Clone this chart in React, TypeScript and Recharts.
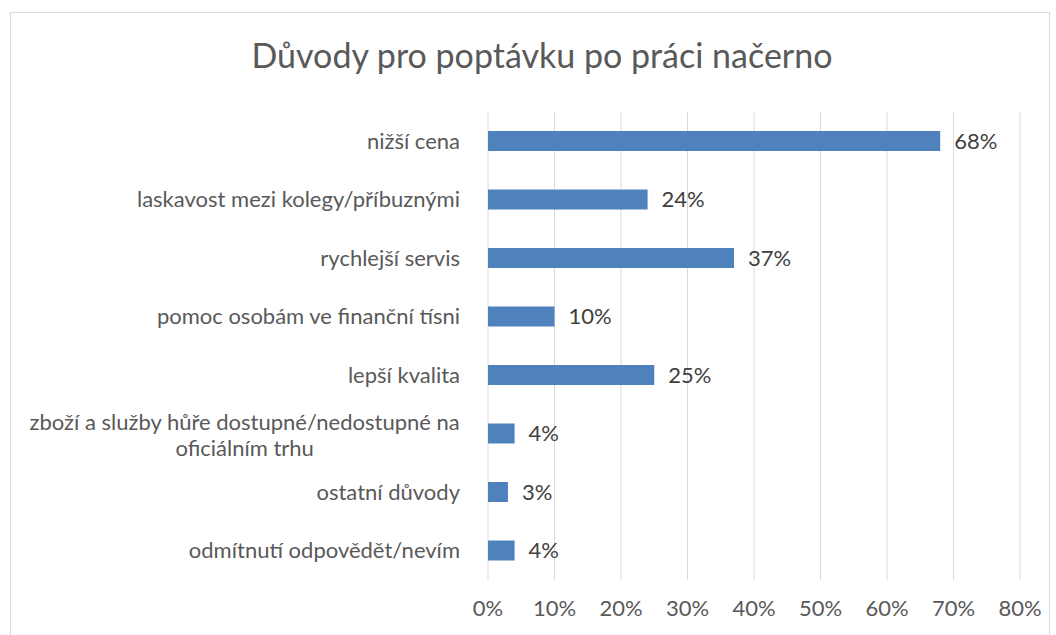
import React from 'react';
import { BarChart, Bar, XAxis, YAxis, CartesianGrid, LabelList } from 'recharts';

const categories = [
  'nižší cena',
  'laskavost mezi kolegy/příbuznými',
  'rychlejší servis',
  'pomoc osobám ve finanční tísni',
  'lepší kvalita',
  'zboží a služby hůře dostupné/nedostupné na\noficiálním trhu',
  'ostatní důvody',
  'odmítnutí odpovědět/nevím',
];
const shares = [68, 24, 37, 10, 25, 4, 3, 4];
const xTicks = [0, 10, 20, 30, 40, 50, 60, 70, 80];

const data = categories.map((name, i) => ({ name, value: shares[i] }));

const FONT = 'Lato, sans-serif';
const TEXT = '#595959';
const LABEL_SIZE = 22;

let ctx: CanvasRenderingContext2D | null = null;
const measure = (s: string, size: number) => {
  if (!ctx) ctx = document.createElement('canvas').getContext('2d');
  if (!ctx) return s.length * size * 0.5;
  ctx.font = `${size}px Lato`;
  return ctx.measureText(s).width;
};

const CategoryTick = (props: any) => {
  const { x, y, payload } = props;
  const lines: string[] = String(payload.value).split('\n');
  const size = LABEL_SIZE;
  if (lines.length === 1) {
    return (
      <text x={x - 20} y={y} dy="0.35em" textAnchor="end" fontSize={size} fill={TEXT} fontFamily={FONT}>
        {lines[0]}
      </text>
    );
  }
  // wrapped label: lines centred on each other, block right-aligned
  const widest = Math.max(...lines.map((l) => measure(l, size)));
  const cx = x - 20 - widest / 2;
  const lh = 26;
  const start = y + 2 - ((lines.length - 1) * lh) / 2;
  return (
    <text x={cx} y={start} textAnchor="middle" fontSize={size} fill={TEXT} fontFamily={FONT}>
      {lines.map((l, i) => (
        <tspan key={i} x={cx} y={start + i * lh} dy="0.35em">
          {l}
        </tspan>
      ))}
    </text>
  );
};

export default function App() {
  return (
    <div style={{ position: 'fixed', left: 0, top: 0, width: 1056, height: 635, background: '#fff' }}>
      <div
        style={{
          position: 'absolute',
          left: 10,
          top: 12,
          width: 1038,
          height: 640,
          border: '1px solid #d9d9d9',
        }}
      />
      <div
        style={{
          position: 'absolute',
          left: 0,
          width: 1084,
          top: 34,
          textAlign: 'center',
          fontFamily: FONT,
          fontSize: 34,
          color: TEXT,
        }}
      >
        Důvody pro poptávku po práci načerno
      </div>
      <div style={{ position: 'absolute', left: 0, top: 0 }}>
        <BarChart
          width={1056}
          height={635}
          data={data}
          layout="vertical"
          margin={{ top: 112, right: 36, bottom: 0, left: 0 }}
        >
          <CartesianGrid horizontal={false} stroke="#d9d9d9" />
          <XAxis
            type="number"
            domain={[0, 80]}
            ticks={xTicks}
            tickFormatter={(v: number) => `${v}%`}
            axisLine={false}
            tickLine={false}
            height={55}
            tickMargin={14}
            interval={0}
            tick={{ fill: TEXT, fontSize: LABEL_SIZE, fontFamily: FONT }}
          />
          <YAxis
            type="category"
            dataKey="name"
            width={488}
            axisLine={false}
            tickLine={false}
            interval={0}
            tick={<CategoryTick />}
          />
          <Bar dataKey="value" fill="#4F81BD" barSize={20} isAnimationActive={false}>
            <LabelList
              dataKey="value"
              position="right"
              offset={14}
              formatter={(v: any) => `${v}%`}
              fill="#404040"
              fontSize={LABEL_SIZE}
              fontFamily={FONT}
            />
          </Bar>
        </BarChart>
      </div>
    </div>
  );
}
